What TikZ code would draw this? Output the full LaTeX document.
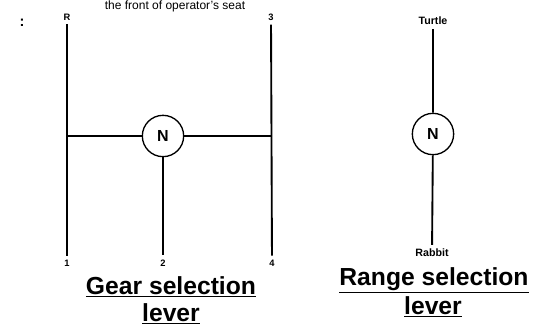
\documentclass[tikz,border=0pt]{standalone}
\usepackage{fontspec}
\setmainfont{Liberation Sans}
\usetikzlibrary{positioning}

\begin{document}
\begin{tikzpicture}[x=0.75pt,y=-0.75pt,
  lever/.style={line width=1.4pt},
  knob/.style={draw,circle,line width=1pt,minimum size=31pt,inner sep=0pt,font=\bfseries\fontsize{12}{12}\selectfont},
  tag/.style={font=\bfseries\fontsize{7}{7}\selectfont,inner sep=3pt},
  title/.style={font=\bfseries\fontsize{18.5}{18.5}\selectfont,align=center,anchor=base}]
  \useasboundingbox (0,0) rectangle (537,329);
  \node[anchor=base,font=\fontsize{9}{9}\selectfont,inner sep=0pt] (seat) at (175,9) {the front of operator's seat};
  \node[font=\bfseries\fontsize{11}{11}\selectfont] (mark) at (22,23) {:};
  % gear selection lever
  \node[knob] (gearN) at (163,136) {N};
  \node[tag] (lR) at (67,17) {R};\node[tag] (l1) at (67,263) {1};
  \node[tag] (l3) at (271,17) {3};\node[tag] (l4) at (272,263) {4};
  \node[tag] (l2) at (163,263) {2};
  \coordinate (jl) at (67,136);\coordinate (jr) at (272,136);
  \draw[lever,line width=2pt] (lR) -- (l1);
  \draw[lever] (l3) -- (l4);
  \draw[lever] (jl) -- (gearN) -- (jr);
  \draw[lever,line width=2pt] (gearN) -- (l2);
  \node[title] (gearT) at (171,294) {\underline{Gear selection}};
  \node[title] (gearL) at (171,321) {\underline{lever}};
  % range selection lever
  \node[knob] (rangeN) at (433,134) {N};
  \node[tag,font=\bfseries\fontsize{8}{8}\selectfont] (turtle) at (433,21) {Turtle};
  \node[tag,font=\bfseries\fontsize{8}{8}\selectfont] (rabbit) at (432,253) {Rabbit};
  \draw[lever] (turtle) -- (rangeN) -- (rabbit);
  \node[title] (rangeT) at (434,285) {\underline{Range selection}};
  \node[title] (rangeL) at (433,314) {\underline{lever}};
\end{tikzpicture}
\end{document}
